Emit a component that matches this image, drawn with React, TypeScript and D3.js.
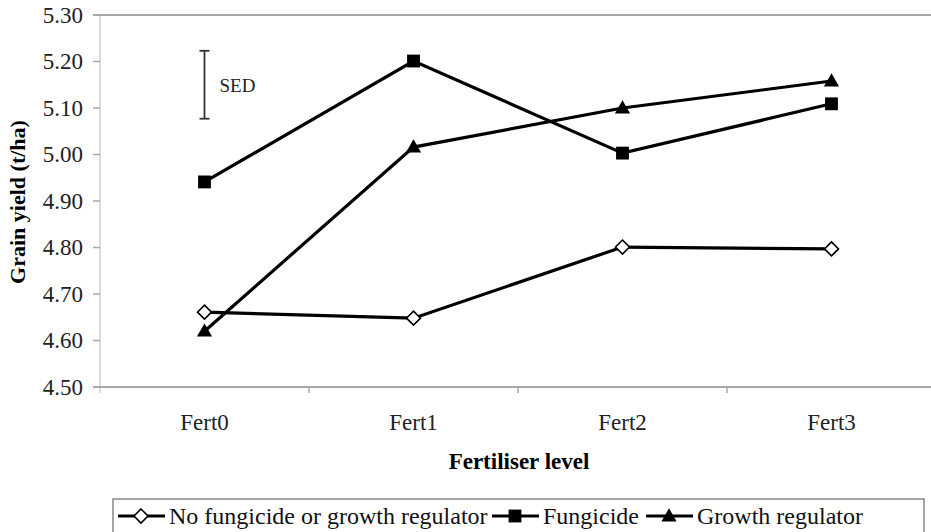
import React from 'react';
import * as d3 from 'd3';

// Fertiliser levels on the x axis
const categories = ['Fert0', 'Fert1', 'Fert2', 'Fert3'];

// Grain yield (t/ha) per series
const noFungicide = [4.661, 4.648, 4.801, 4.797];
const fungicide = [4.941, 5.201, 5.003, 5.109];
const growthRegulator = [4.62, 5.016, 5.1, 5.158];

const yTicks = [4.5, 4.6, 4.7, 4.8, 4.9, 5.0, 5.1, 5.2, 5.3];

// SED error bar (low, high)
const sedRange = [5.077, 5.223];

const seriesNames = ['No fungicide or growth regulator', 'Fungicide', 'Growth regulator'];

const W = 931;
const H = 532;
const serif = '"Liberation Serif", "Times New Roman", serif';

type Shape = 'diamond' | 'square' | 'triangle';

const Marker = ({ x, y, shape }: { x: number; y: number; shape: Shape }) => {
    if (shape === 'diamond') {
        const r = 7;
        return (
            <path
                d={`M${x},${y - r}L${x + r},${y}L${x},${y + r}L${x - r},${y}Z`}
                fill="white"
                stroke="black"
                strokeWidth={1.6}
            />
        );
    }
    const sym = shape === 'square'
        ? d3.symbol(d3.symbolSquare, 165)
        : d3.symbol(d3.symbolTriangle, 100);
    return <path d={sym() || ''} transform={`translate(${x},${y + (shape === 'triangle' ? 1 : 0)})`} fill="black" />;
};

export default function App() {
    const margin = { top: 15, left: 100 };
    const plotBottom = 387;

    // x: point scale, plot area runs past the right edge of the picture
    const x = d3.scalePoint<string>()
        .domain(categories)
        .range([margin.left, 936])
        .padding(0.5);
    const step = x.step();

    const y = d3.scaleLinear()
        .domain([4.5, 5.3])
        .range([plotBottom, margin.top]);

    const line = d3.line<number>()
        .x((_, i) => x(categories[i]) as number)
        .y(d => y(d));

    const series: { values: number[]; shape: Shape }[] = [
        { values: noFungicide, shape: 'diamond' },
        { values: fungicide, shape: 'square' },
        { values: growthRegulator, shape: 'triangle' },
    ];

    const sedX = x('Fert0') as number;

    // Legend layout
    const legendItems = [
        { name: seriesNames[0], shape: 'diamond' as Shape, x0: 118 },
        { name: seriesNames[1], shape: 'square' as Shape, x0: 492 },
        { name: seriesNames[2], shape: 'triangle' as Shape, x0: 646 },
    ];

    return (
        <svg width={W} height={H} style={{ position: 'absolute', left: 0, top: 0, background: 'white' }}>
            {/* y axis line */}
            <line x1={margin.left} x2={margin.left} y1={margin.top} y2={plotBottom + 6} stroke="#dcdcdc" strokeWidth={2} />

            {/* top and bottom horizontal lines */}
            <line x1={93} x2={W} y1={y(5.3)} y2={y(5.3)} stroke="#a8a8a8" strokeWidth={2} />
            <line x1={93} x2={W} y1={y(4.5)} y2={y(4.5)} stroke="#a8a8a8" strokeWidth={2} />

            {/* y ticks and labels */}
            {yTicks.map(t => (
                <g key={t}>
                    <line x1={93} x2={margin.left} y1={y(t)} y2={y(t)} stroke="#a8a8a8" strokeWidth={1.5} />
                    <text
                        x={83}
                        y={y(t)}
                        dy="0.34em"
                        textAnchor="end"
                        fontFamily={serif}
                        fontSize={23}
                        fill="#222"
                    >
                        {t.toFixed(2)}
                    </text>
                </g>
            ))}

            {/* category boundary ticks */}
            {categories.slice(1).map(c => (
                <line
                    key={c}
                    x1={(x(c) as number) - step / 2}
                    x2={(x(c) as number) - step / 2}
                    y1={plotBottom}
                    y2={plotBottom + 6}
                    stroke="#a8a8a8"
                    strokeWidth={1.5}
                />
            ))}

            {/* category labels */}
            {categories.map(c => (
                <text key={c} x={x(c)} y={430} textAnchor="middle" fontFamily={serif} fontSize={23} fill="#222">
                    {c}
                </text>
            ))}

            {/* axis titles */}
            <text x={519} y={469} textAnchor="middle" fontFamily={serif} fontSize={23} fontWeight="bold">
                Fertiliser level
            </text>
            <text
                transform="translate(25,202) rotate(-90)"
                textAnchor="middle"
                fontFamily={serif}
                fontSize={22}
                fontWeight="bold"
            >
                Grain yield (t/ha)
            </text>

            {/* SED bar */}
            <g stroke="#333" strokeWidth={1.8}>
                <line x1={sedX} x2={sedX} y1={y(sedRange[0])} y2={y(sedRange[1])} />
                <line x1={sedX - 5} x2={sedX + 5} y1={y(sedRange[0])} y2={y(sedRange[0])} />
                <line x1={sedX - 5} x2={sedX + 5} y1={y(sedRange[1])} y2={y(sedRange[1])} />
            </g>
            <text x={sedX + 15} y={y((sedRange[0] + sedRange[1]) / 2) + 7} fontFamily={serif} fontSize={19} fill="#222">
                SED
            </text>

            {/* series lines */}
            {series.map((s, i) => (
                <path key={i} d={line(s.values) || ''} fill="none" stroke="black" strokeWidth={3.2} />
            ))}
            {series.map((s, i) =>
                s.values.map((v, j) => (
                    <Marker key={`${i}-${j}`} x={x(categories[j]) as number} y={y(v)} shape={s.shape} />
                ))
            )}

            {/* legend */}
            <rect x={113} y={499} width={811} height={50} fill="white" stroke="#888" strokeWidth={1.5} />
            {legendItems.map(item => (
                <g key={item.name}>
                    <line x1={item.x0} x2={item.x0 + 47} y1={516} y2={516} stroke="black" strokeWidth={3} />
                    <Marker x={item.x0 + 23} y={516} shape={item.shape} />
                    <text x={item.x0 + 51} y={524} fontFamily={serif} fontSize={24} fill="#111">
                        {item.name}
                    </text>
                </g>
            ))}
        </svg>
    );
}
